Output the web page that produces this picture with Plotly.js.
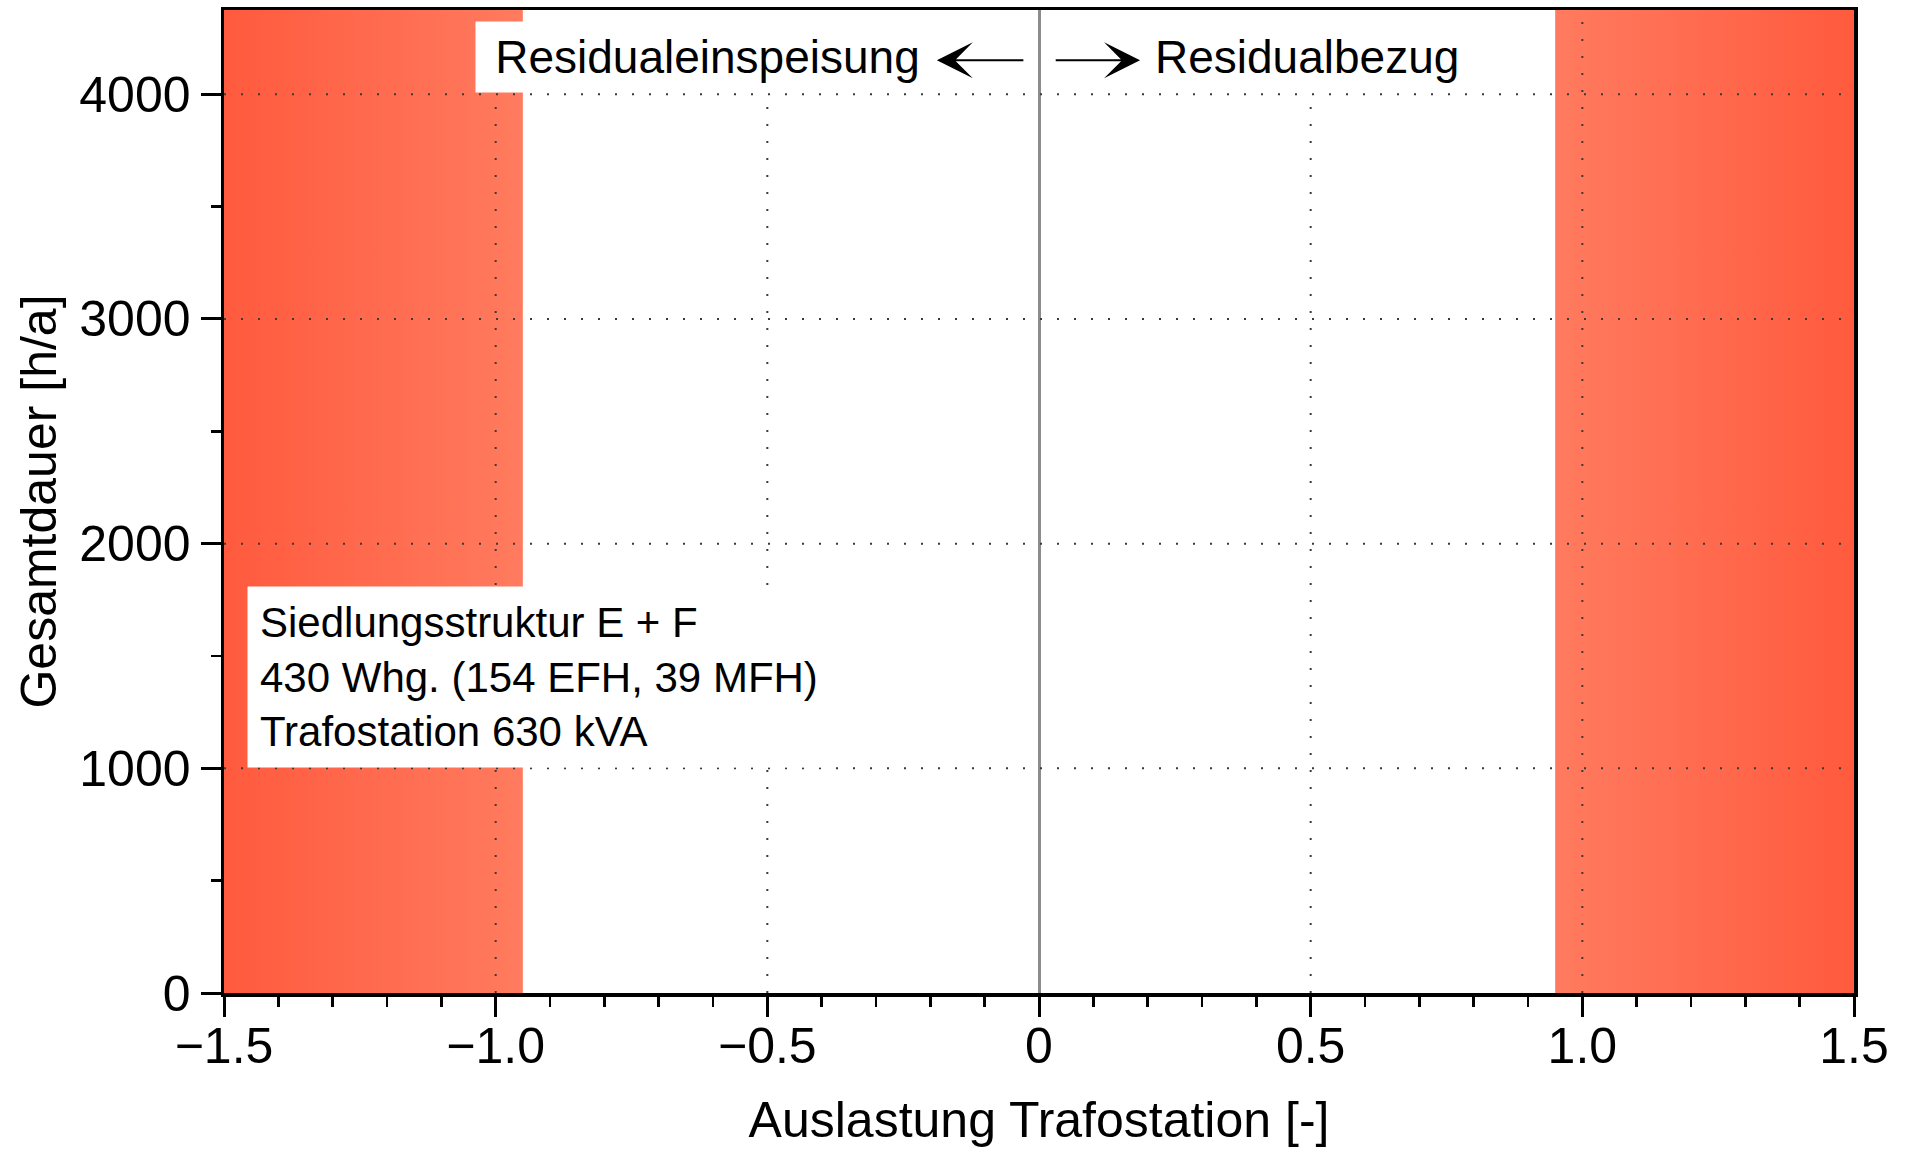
<!DOCTYPE html>
<html>
<head>
<meta charset="utf-8">
<script src="https://cdn.plot.ly/plotly-3.0.1.min.js"></script>
<style>html,body{margin:0;padding:0;background:#fff;}#chart{width:1910px;height:1149px;}</style>
</head>
<body>
<div id="chart"></div>
<script>
// ---- data ----
const xRange = [-1.5, 1.5];
const yRange = [0, 4375];
const xTickVals = [-1.5, -1.0, -0.5, 0, 0.5, 1.0, 1.5];
const xTickText = ['\u22121.5', '\u22121.0', '\u22120.5', '0', '0.5', '1.0', '1.5'];
const yTickVals = [0, 1000, 2000, 3000, 4000];
const yTickText = ['0', '1000', '2000', '3000', '4000'];
const gridX = [-1.0, -0.5, 0.5, 1.0];
const gridY = [1000, 2000, 3000, 4000];
const feedInOverloadBand = [-1.5, -0.95];   // Residualeinspeisung > Nennleistung
const drawOverloadBand = [0.95, 1.5];       // Residualbezug > Nennleistung
const labelFeedIn = 'Residualeinspeisung';
const labelDraw = 'Residualbezug';
const infoLines = ['Siedlungsstruktur E + F', '430 Whg. (154 EFH, 39 MFH)', 'Trafostation 630 kVA'];
const xTitle = 'Auslastung Trafostation [-]';
const yTitle = 'Gesamtdauer [h/a]';

// ---- styles ----
const FONT = '"Liberation Sans", Arial, Helvetica, sans-serif';
const outerRed = '#ff5a3e';
const innerRed = '#ff7b5f';

function bandTrace(band, colorscale) {
  return {
    type: 'scatter', mode: 'none', hoverinfo: 'skip', showlegend: false,
    x: [band[0], band[1], band[1], band[0], band[0]],
    y: [yRange[0], yRange[0], yRange[1], yRange[1], yRange[0]],
    fill: 'toself',
    fillgradient: { type: 'horizontal', colorscale: colorscale }
  };
}

const traces = [
  bandTrace(feedInOverloadBand, [[0, outerRed], [1, innerRed]]),
  bandTrace(drawOverloadBand, [[0, innerRed], [1, outerRed]])
];

const dotLine = { color: '#3a3a3a', width: 2, dash: '2px,15px' };
gridX.forEach(g => traces.push({
  type: 'scatter', mode: 'lines', hoverinfo: 'skip', showlegend: false,
  x: [g, g], y: yRange, line: dotLine
}));
gridY.forEach(g => traces.push({
  type: 'scatter', mode: 'lines', hoverinfo: 'skip', showlegend: false,
  x: xRange, y: [g, g], line: dotLine
}));

const axisCommon = {
  showline: true, linecolor: '#000', linewidth: 3.5, mirror: true,
  ticks: 'outside', ticklen: 20, tickwidth: 3, tickcolor: '#000',
  showgrid: false, tickfont: { family: FONT, size: 50, color: '#000' },
  tickmode: 'array', fixedrange: true
};

const layout = {
  width: 1910, height: 1149,
  margin: { l: 224, r: 56, t: 10, b: 156, pad: 0 },
  paper_bgcolor: '#fff', plot_bgcolor: '#fff',
  showlegend: false,
  font: { family: FONT, color: '#000' },
  xaxis: Object.assign({}, axisCommon, {
    range: xRange, tickvals: xTickVals, ticktext: xTickText,
    ticklabelstandoff: -14,
    zeroline: true, zerolinecolor: '#8c8c8c', zerolinewidth: 3,
    minor: { dtick: 0.1, ticks: 'outside', ticklen: 10, tickwidth: 2.5, tickcolor: '#000', showgrid: false },
    title: { text: xTitle, font: { family: FONT, size: 50, color: '#000' }, standoff: 30 }
  }),
  yaxis: Object.assign({}, axisCommon, {
    range: yRange, tickvals: yTickVals, ticktext: yTickText,
    zeroline: false,
    minor: { dtick: 500, ticks: 'outside', ticklen: 10, tickwidth: 2.5, tickcolor: '#000', showgrid: false },
    title: { text: yTitle, font: { family: FONT, size: 50, color: '#000' }, standoff: 8 }
  }),
  annotations: [
    { xref: 'x', yref: 'y', x: -0.182, y: 4167, xanchor: 'right', yanchor: 'middle',
      text: labelFeedIn, showarrow: false, bgcolor: '#fff', borderpad: 9, width: 445, align: 'center',
      font: { family: FONT, size: 46, color: '#000' } },
    { xref: 'x', yref: 'y', x: 0.195, y: 4167, xanchor: 'left', yanchor: 'middle',
      text: labelDraw, showarrow: false, bgcolor: '#fff', borderpad: 9,
      font: { family: FONT, size: 46, color: '#000' } },
    { xref: 'x', yref: 'y', x: -1.4577, y: 1408, xanchor: 'left', yanchor: 'middle', align: 'left',
      text: infoLines.join('<br>'), showarrow: false, bgcolor: '#fff', borderpad: 12,
      font: { family: FONT, size: 42, color: '#000' } },
    { xref: 'x', yref: 'y', axref: 'x', ayref: 'y', x: -0.188, y: 4151, ax: -0.026, ay: 4151,
      text: '', showarrow: true, arrowhead: 3, arrowsize: 3, arrowwidth: 2, arrowcolor: '#000' },
    { xref: 'x', yref: 'y', axref: 'x', ayref: 'y', x: 0.186, y: 4151, ax: 0.028, ay: 4151,
      text: '', showarrow: true, arrowhead: 3, arrowsize: 3, arrowwidth: 2, arrowcolor: '#000' }
  ]
};

Plotly.newPlot('chart', traces, layout, { staticPlot: true, displayModeBar: false });
</script>
</body>
</html>
